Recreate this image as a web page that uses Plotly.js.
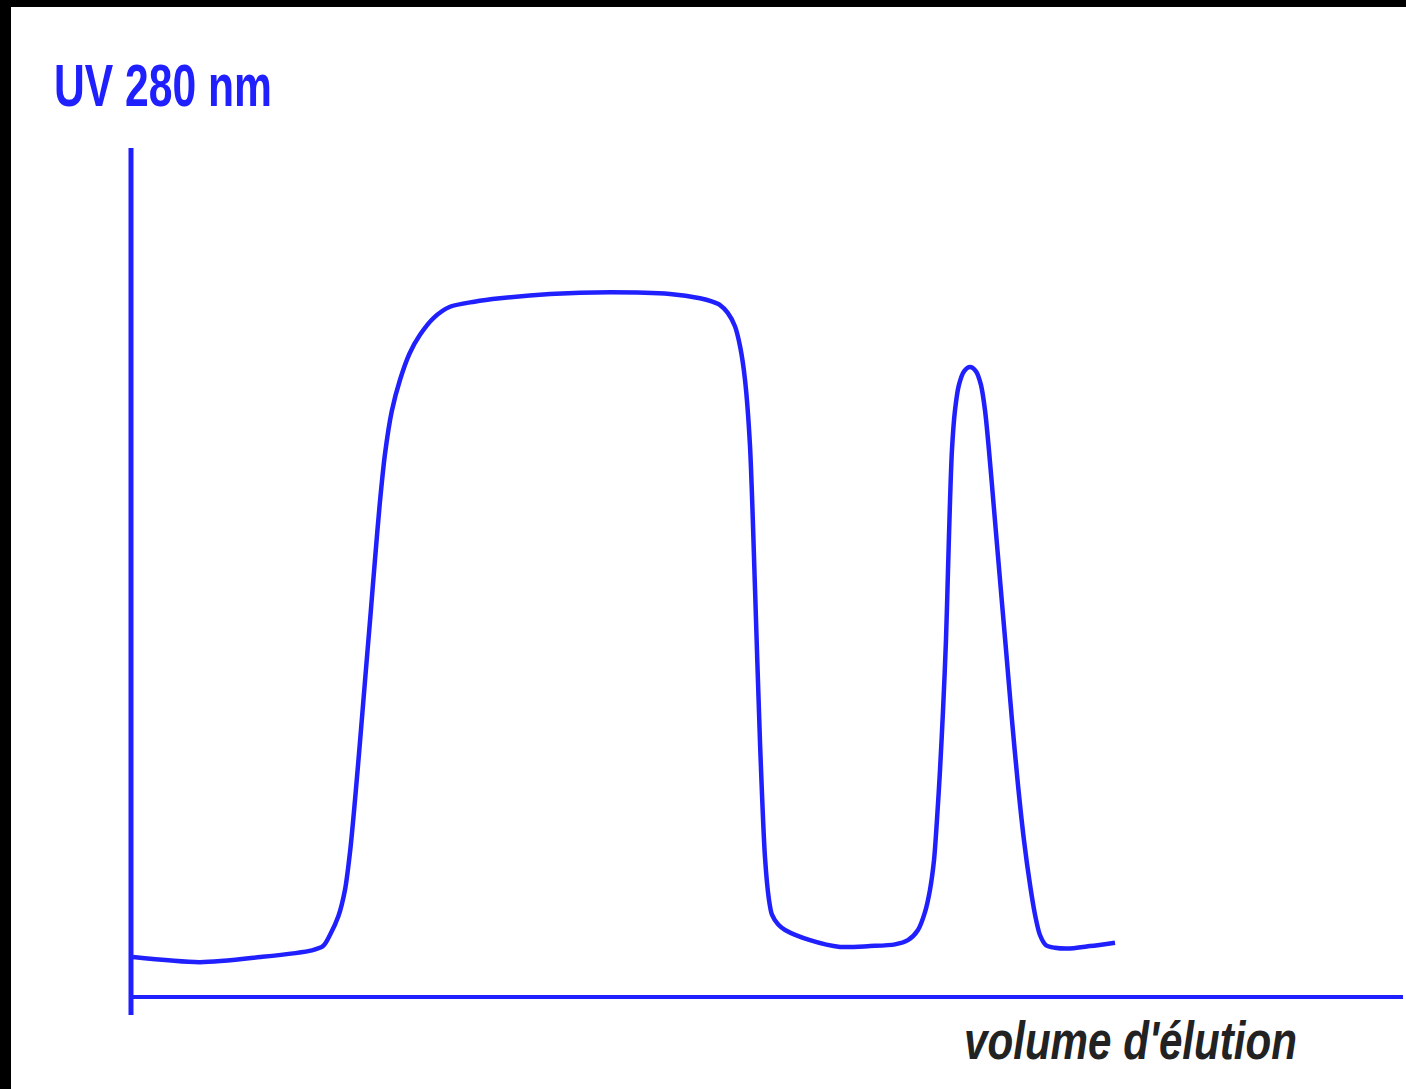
<!DOCTYPE html>
<html>
<head>
<meta charset="utf-8">
<script src="https://cdn.plot.ly/plotly-3.0.1.min.js"></script>
<style>
html,body{margin:0;padding:0;background:#000;width:1406px;height:1089px;overflow:hidden;}
#chart{position:absolute;left:11px;top:7px;width:1395px;height:1082px;background:#fff;}
</style>
</head>
<body>
<div id="chart"></div>
<script>
// Elution volume (arbitrary units, 0-100) and UV 280 nm absorbance (arbitrary, 0-1)
const elutionVolume = [0.16, 5.42, 10.14, 14.23, 15.10, 15.64, 16.30, 16.82, 17.25, 17.61, 18.00, 18.40, 18.80, 19.18, 19.55, 19.97, 20.50, 21.15, 21.90, 22.72, 23.80, 25.08, 27.00, 29.01, 32.94, 37.66, 42.37, 44.73, 45.70, 46.31, 46.90, 47.48, 47.90, 48.27, 48.66, 49.06, 49.45, 49.84, 50.15, 50.39, 50.90, 51.42, 53.38, 55.74,
  58.10, 60.06, 61.08, 61.87, 62.42, 62.81, 63.13, 63.36, 63.60, 63.84, 64.07, 64.23, 64.39, 64.54, 64.78, 65.09, 65.49, 65.96, 66.43, 66.82, 67.14, 67.45, 67.85, 68.32, 68.79, 69.26, 69.73, 70.20, 70.68, 71.07, 71.46, 71.93, 72.64, 73.58, 75.39, 77.36];
const absorbance = [0.047, 0.041, 0.047, 0.055, 0.060, 0.073, 0.095, 0.126, 0.175, 0.232, 0.300, 0.373, 0.445, 0.515, 0.580, 0.640, 0.690, 0.727, 0.758, 0.780, 0.800, 0.813, 0.819, 0.823, 0.828, 0.830, 0.828, 0.823, 0.819, 0.815, 0.806, 0.790, 0.765, 0.727, 0.650, 0.480, 0.300, 0.165, 0.115, 0.097, 0.085, 0.079, 0.067, 0.059,
  0.060, 0.062, 0.067, 0.079, 0.100, 0.126, 0.161, 0.208, 0.267, 0.338, 0.420, 0.503, 0.585, 0.644, 0.691, 0.721, 0.737, 0.742, 0.737, 0.721, 0.691, 0.644, 0.574, 0.491, 0.409, 0.326, 0.250, 0.185, 0.132, 0.097, 0.073, 0.061, 0.058, 0.057, 0.060, 0.064];
const yAxisLabel = "UV 280 nm";
const xAxisLabel = "volume d'élution";

const blue = "rgb(32,32,255)";

const trace = {
  x: elutionVolume,
  y: absorbance,
  type: "scatter",
  mode: "lines",
  line: {color: blue, width: 4.5, shape: "spline", smoothing: 0.8},
  hoverinfo: "none"
};

const layout = {
  width: 1395,
  height: 1082,
  margin: {l: 120, r: 3, t: 141, b: 92, pad: 0},
  paper_bgcolor: "#fff",
  plot_bgcolor: "#fff",
  showlegend: false,
  xaxis: {range: [0, 100], showgrid: false, zeroline: false, showticklabels: false, ticks: "", showline: false, fixedrange: true},
  yaxis: {range: [0, 1], showgrid: false, zeroline: false, showticklabels: false, ticks: "", showline: false, fixedrange: true},
  shapes: [
    {type: "line", xref: "paper", yref: "paper", x0: 0, x1: 0, y0: -18/849, y1: 1, line: {color: blue, width: 5}},
    {type: "line", xref: "paper", yref: "paper", x0: 0, x1: 1, y0: 0, y1: 0, line: {color: blue, width: 4}}
  ],
  annotations: [
    {text: "<b>" + yAxisLabel + "</b>", xref: "paper", yref: "paper", x: -79/1272, y: (997-86)/849,
     xanchor: "left", yanchor: "middle", showarrow: false,
     font: {family: "Liberation Sans, Arial, sans-serif", size: 60, color: blue}},
    {text: "<b><i>" + xAxisLabel + "</i></b>", xref: "paper", yref: "paper", x: 831/1272, y: -43/849,
     xanchor: "left", yanchor: "middle", showarrow: false,
     font: {family: "Liberation Sans, Arial, sans-serif", size: 54, color: "#222"}}
  ]
};

const targetWidths = [218, 333];

Plotly.newPlot("chart", [trace], layout, {displayModeBar: false, staticPlot: true}).then(function (gd) {
  const texts = gd.querySelectorAll(".annotation-text");
  texts.forEach(function (t, i) {
    const bb = t.getBBox();
    const s = targetWidths[i] / bb.width;
    const x0 = bb.x;
    t.setAttribute("transform", "translate(" + x0 + ",0) scale(" + s + ",1) translate(" + (-x0) + ",0)");
  });
});
</script>
</body>
</html>
